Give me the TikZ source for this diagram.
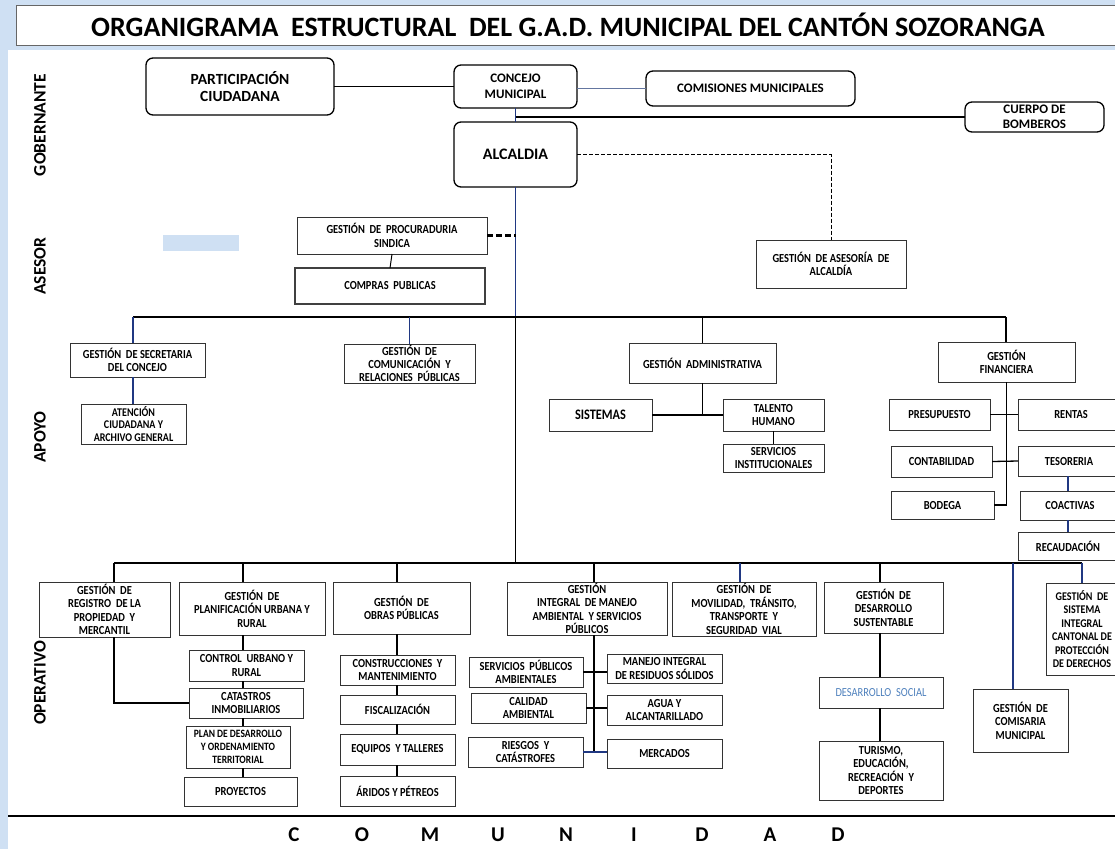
\documentclass[tikz,border=0pt]{standalone}
\usepackage{fontspec}
\setmainfont{Carlito}
\newfontfamily\bxf{Carlito}[FakeStretch=0.85]
\definecolor{bgblue}{RGB}{207,224,243}
\definecolor{lineblue}{RGB}{32,56,130}
\definecolor{slate}{RGB}{100,118,160}
\definecolor{socblue}{RGB}{79,129,189}
\newcommand\ob[7]{\node[#1, minimum width={(#5)-(#3)}, minimum height={(#6)-(#4)}] (#2) at ({((#3)+(#5))/2},{((#4)+(#6))/2}) {#7};}
\tikzset{
 box/.style={draw=black!80, line width=0.9pt, fill=white, inner sep=0pt, outer sep=0pt, align=center, font=\bxf\bfseries\fontsize{12.3}{13.5}\selectfont},
 rbox/.style={box, rounded corners=7pt, line width=1.3pt, draw=black},
 conn/.style={line width=1.3pt, draw=black},
 bconn/.style={line width=1.3pt, draw=lineblue},
 lab/.style={rotate=90, font=\bfseries\fontsize{17.5}{19}\selectfont},
 dsh/.style={line width=1pt, dash pattern=on 4pt off 2pt},
}
\begin{document}
\begin{tikzpicture}[x=1pt,y=-1pt]
\clip (0,0) rectangle (1115,849);
\fill[bgblue] (0,0) rectangle (1115,849);
\fill[white] (8,50) rectangle (1115,849);
\fill[bgblue] (163,235) rectangle (239,251);
% title
\ob{box, draw=black!60, line width=0.8pt}{title}{16}{5}{1124}{45}{}
\node[font=\bfseries\fontsize{28}{30}\selectfont] (titletext) at (568,25) {ORGANIGRAMA~~ESTRUCTURAL~~DEL G.A.D. MUNICIPAL DEL CANTÓN SOZORANGA};
% level labels
\node[lab] (lgob) at (40,125) {GOBERNANTE};
\node[lab] (lase) at (40,266) {ASESOR};
\node[lab] (lapo) at (40,437) {APOYO};
\node[lab] (lope) at (40,683) {OPERATIVO};
% gobernante
\ob{rbox, font=\bfseries\fontsize{15.5}{17}\selectfont}{part}{146}{58}{334}{115}{PARTICIPACIÓN\\CIUDADANA}
\ob{rbox, font=\bfseries\fontsize{13}{15.5}\selectfont}{conc}{454}{65}{577}{108}{CONCEJO\\MUNICIPAL}
\ob{rbox, font=\bfseries\fontsize{13}{15}\selectfont}{comi}{646}{71}{855}{106}{COMISIONES MUNICIPALES}
\ob{rbox, font=\bfseries\fontsize{13}{14.5}\selectfont}{bomb}{965}{102}{1104}{132}{CUERPO DE\\BOMBEROS}
\ob{rbox, font=\bfseries\fontsize{16}{17}\selectfont}{alc}{454}{122}{577}{187}{ALCALDIA}
% asesor
\ob{box}{proc}{297}{217}{487}{254}{GESTIÓN~~DE~~PROCURADURIA\\SINDICA}
\ob{box, line width=2.2pt, draw=black!75}{comp}{295}{268}{485}{304}{COMPRAS~~PUBLICAS}
\ob{box}{ases}{756}{240}{906}{288}{GESTIÓN~~DE ASESORÍA~~DE\\ALCALDÍA}
% apoyo
\ob{box}{secr}{70}{343}{205}{377}{GESTIÓN~~DE SECRETARIA\\DEL CONCEJO}
\ob{box, font=\bxf\bfseries\fontsize{11.8}{12.5}\selectfont}{aten}{81}{404}{186}{444}{ATENCIÓN\\CIUDADANA Y\\ARCHIVO GENERAL}
\ob{box, font=\bxf\bfseries\fontsize{12.3}{12.8}\selectfont}{com}{344}{344}{475}{383}{GESTIÓN~~DE\\COMUNICACIÓN~~Y\\RELACIONES~~PÚBLICAS}
\ob{box}{adm}{629}{343}{776}{383}{GESTIÓN~~ADMINISTRATIVA}
\ob{box}{fin}{938}{342}{1075}{382}{GESTIÓN\\FINANCIERA}
\ob{box, font=\bxf\bfseries\fontsize{14.5}{15}\selectfont}{sis}{549}{399}{652}{431}{SISTEMAS}
\ob{box}{tal}{723}{399}{824}{431}{TALENTO\\HUMANO}
\ob{box}{serv}{723}{444}{824}{472}{SERVICIOS\\INSTITUCIONALES}
\ob{box}{pres}{889}{399}{990}{430}{PRESUPUESTO}
\ob{box}{rent}{1018}{399}{1124}{430}{RENTAS}
\ob{box}{cont}{891}{446}{992}{477}{CONTABILIDAD}
\ob{box}{tes}{1018}{446}{1120}{476}{TESORERIA}
\ob{box}{bod}{891}{491}{994}{519}{BODEGA}
\ob{box}{coac}{1020}{491}{1120}{520}{COACTIVAS}
\ob{box}{rec}{1018}{532}{1118}{560}{RECAUDACIÓN}
% operativo
\ob{box}{reg}{39}{582}{170}{637}{GESTIÓN~~DE\\REGISTRO~~DE LA\\PROPIEDAD~~Y\\MERCANTIL}
\ob{box}{plan}{179}{582}{325}{635}{GESTIÓN~~DE\\PLANIFICACIÓN URBANA Y\\RURAL}
\ob{box}{obr}{333}{582}{470}{634}{GESTIÓN~~DE\\OBRAS PÚBLICAS}
\ob{box}{man}{507}{582}{667}{635}{GESTIÓN\\INTEGRAL~~DE MANEJO\\AMBIENTAL~~Y SERVICIOS\\PÚBLICOS}
\ob{box}{mov}{672}{582}{816}{636}{GESTIÓN~~DE\\MOVILIDAD,~~TRÁNSITO,\\TRANSPORTE~~Y\\SEGURIDAD~~VIAL}
\ob{box}{des}{824}{582}{943}{633}{GESTIÓN~~DE\\DESARROLLO\\SUSTENTABLE}
\ob{box, font=\bxf\bfseries\fontsize{11.8}{13.5}\selectfont}{sist}{1046}{583}{1118}{675}{GESTIÓN~~DE\\SISTEMA\\INTEGRAL\\CANTONAL DE\\PROTECCIÓN\\DE DERECHOS}
\ob{box}{comis}{973}{689}{1068}{752}{GESTIÓN~~DE\\COMISARIA\\MUNICIPAL}
\ob{box}{ctrl}{189}{650}{304}{681}{CONTROL~~URBANO Y\\RURAL}
\ob{box}{cat}{189}{688}{303}{718}{CATASTROS\\INMOBILIARIOS}
\ob{box, font=\bxf\bfseries\fontsize{11.2}{12.8}\selectfont}{pdot}{186}{726}{290}{768}{PLAN DE DESARROLLO\\Y ORDENAMIENTO\\TERRITORIAL}
\ob{box}{proy}{184}{777}{297}{806}{PROYECTOS}
\ob{box}{cons}{340}{655}{455}{685}{CONSTRUCCIONES~~Y\\MANTENIMIENTO}
\ob{box}{fisc}{340}{695}{455}{724}{FISCALIZACIÓN}
\ob{box}{equi}{340}{734}{455}{765}{EQUIPOS~~Y TALLERES}
\ob{box}{arid}{340}{776}{455}{806}{ÁRIDOS Y PÉTREOS}
\ob{box}{sp}{469}{657}{583}{687}{SERVICIOS~~PÚBLICOS\\AMBIENTALES}
\ob{box}{cal}{471}{693}{586}{723}{CALIDAD\\AMBIENTAL}
\ob{box}{ries}{468}{737}{583}{767}{RIESGOS~~Y\\CATÁSTROFES}
\ob{box}{mir}{607}{654}{722}{683}{MANEJO INTEGRAL\\DE RESIDUOS SÓLIDOS}
\ob{box}{agua}{607}{695}{722}{725}{AGUA Y\\ALCANTARILLADO}
\ob{box}{merc}{607}{739}{722}{768}{MERCADOS}
\ob{box, font=\bxf\fontsize{12.3}{13.5}\selectfont, text=socblue}{soc}{819}{677}{943}{708}{DESARROLLO~~SOCIAL}
\ob{box}{tur}{819}{741}{943}{800}{TURISMO,\\EDUCACIÓN,\\RECREACIÓN~~Y\\DEPORTES}
% comunidad
\draw[line width=2.6pt] (8,816) -- (1115,816);
\node[font=\bfseries\fontsize{21}{22}\selectfont, inner sep=0pt] (comu) at (566,835) {\makebox[68pt]{C}\makebox[68pt]{O}\makebox[68pt]{M}\makebox[68pt]{U}\makebox[68pt]{N}\makebox[68pt]{I}\makebox[68pt]{D}\makebox[68pt]{A}\makebox[68pt]{D}};
% bus coordinates
\coordinate (apL) at (133,317);
\coordinate (apR) at (1006,317);
\coordinate (opL) at (114,563);
\coordinate (opR) at (1082,563);
\coordinate (o2) at (243,563);
\coordinate (o3) at (397,563);
\coordinate (o4) at (594,563);
\coordinate (o5) at (740,563);
\coordinate (o6) at (880,563);
\coordinate (o7) at (1013,563);
\coordinate (tx) at (1068,0);
% gobernante connectors
\draw[conn] (part.east) -- (conc.west);
\draw[line width=1.2pt, slate] (comi.west -| conc.east) -- (comi.west);
\draw[bconn] (conc.south) -- (alc.north);
\draw[conn] (bomb.west -| conc.south) -- (bomb.west);
\draw[dsh] (alc.east) -- (alc.east -| ases.north) -- (ases.north);
% main trunk
\draw[bconn] (alc.south) -- (alc.south |- apL);
\draw[conn] (alc.south |- apL) -- (alc.south |- opL);
% asesor connectors
\draw[line width=2.2pt, dash pattern=on 6pt off 3pt] (proc.east) -- (proc.east -| alc.south);
\draw[conn, line width=1pt] (proc.south) -- (comp.north);
% apoyo
\draw[conn] (apL) -- (apR);
\draw[bconn] (apL) -- (apL |- secr.north);
\draw[bconn] (secr.south -| apL) -- (apL |- aten.north);
\draw[bconn] (com.north) -- (com.north |- apL);
\draw[conn] (adm.north) -- (adm.north |- apL);
\draw[conn] (apR) -- (apR |- fin.north);
\draw[conn] (adm.south) -- (adm.south |- sis.east);
\draw[conn] (sis.east) -- (tal.west);
\draw[conn] (tal.south) -- (serv.north);
\draw[conn] (fin.south) -- (fin.south |- bod.east) -- (bod.east);
\draw[conn] (pres.east) -- (rent.west);
\draw[conn] (cont.east) -- (tes.west);
\draw[bconn] (tes.south -| tx) -- (tx |- coac.north);
\draw[bconn] (coac.south -| tx) -- (tx |- rec.north);
% operativo
\draw[conn] (opL) -- (opR);
\draw[conn] (opL) -- (opL |- reg.north);
\draw[conn] (reg.south -| opL) -- (opL |- cat.west) -- (cat.west);
\draw[conn] (o2) -- (o2 |- plan.north);
\foreach \a/\b in {plan/ctrl, ctrl/cat, cat/pdot, pdot/proy} \draw[conn] (\a.south -| o2) -- (o2 |- \b.north);
\draw[conn] (o3) -- (o3 |- obr.north);
\foreach \a/\b in {obr/cons, cons/fisc, fisc/equi, equi/arid} \draw[conn] (\a.south -| o3) -- (o3 |- \b.north);
\draw[conn] (o4) -- (o4 |- man.north);
\draw[conn] (man.south -| o4) -- (o4 |- ries.east);
\draw[conn] (sp.east) -- (sp.east -| mir.west);
\draw[conn] (cal.east) -- (cal.east -| agua.west);
\draw[bconn] (ries.east) -- (ries.east -| merc.west);
\draw[bconn] (o5) -- (o5 |- mov.north);
\draw[conn] (o6) -- (o6 |- des.north);
\foreach \a/\b in {des/soc, soc/tur} \draw[conn] (\a.south -| o6) -- (o6 |- \b.north);
\draw[bconn] (o7) -- (o7 |- comis.north);
\draw[bconn] (opR) -- (opR |- sist.north);
\end{tikzpicture}
\end{document}
